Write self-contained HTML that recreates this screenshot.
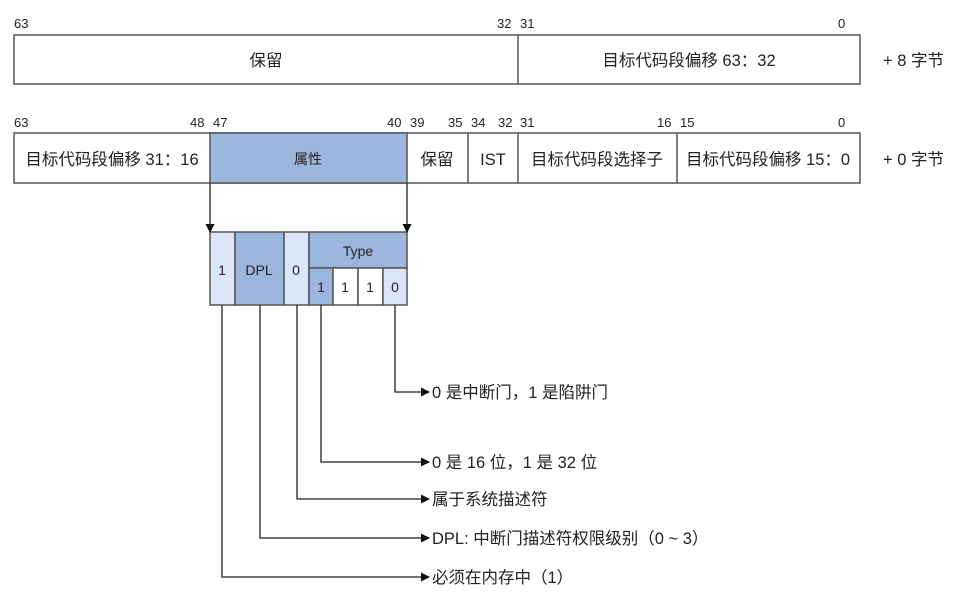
<!DOCTYPE html>
<html><head><meta charset="utf-8"><style>
body{margin:0;background:#fff;width:961px;height:595px;overflow:hidden}
svg text{font-family:"Liberation Sans","Noto Sans CJK SC",sans-serif;fill:#222}
</style></head><body>
<svg width="961" height="595" xmlns="http://www.w3.org/2000/svg">
<defs><marker id="a" markerWidth="9" markerHeight="9" refX="8" refY="4.5" orient="auto" markerUnits="userSpaceOnUse"><path d="M0,0 L9,4.5 L0,9z" fill="#111"/></marker></defs>
<g font-size="13">
<text x="14" y="28">63</text><text x="497" y="28">32</text><text x="520" y="28">31</text><text x="838" y="28">0</text>
<text x="14" y="127">63</text><text x="190" y="127">48</text><text x="213" y="127">47</text><text x="387" y="127">40</text><text x="410" y="127">39</text><text x="448" y="127">35</text><text x="471" y="127">34</text><text x="498" y="127">32</text><text x="520" y="127">31</text><text x="657" y="127">16</text><text x="680" y="127">15</text><text x="838" y="127">0</text>
</g>
<g stroke="#555" stroke-width="1.5" fill="#fff">
<rect x="14" y="35" width="846" height="49"/>
<line x1="518" y1="35" x2="518" y2="84"/>
<rect x="14" y="133" width="846" height="50"/>
<rect x="210" y="133" width="197" height="50" fill="#9db6dd"/>
<line x1="468" y1="133" x2="468" y2="183"/><line x1="518" y1="133" x2="518" y2="183"/><line x1="677" y1="133" x2="677" y2="183"/>
<rect x="210" y="232" width="25" height="73" fill="#dae6f8"/>
<rect x="235" y="232" width="49" height="73" fill="#9db6dd"/>
<rect x="284" y="232" width="25" height="73" fill="#dae6f8"/>
<rect x="309" y="232" width="98" height="36" fill="#9db6dd"/>
<rect x="309" y="268" width="24" height="37" fill="#9db6dd"/>
<rect x="333" y="268" width="25" height="37"/>
<rect x="358" y="268" width="25" height="37"/>
<rect x="383" y="268" width="24" height="37" fill="#dae6f8"/>
</g>
<g font-size="16.5" text-anchor="middle">
<text x="266" y="66">保留</text><text x="689" y="66">目标代码段偏移 63：32</text>
<text x="112" y="165">目标代码段偏移 31：16</text><text x="308" y="164" font-size="14">属性</text>
<text x="437" y="165">保留</text><text x="493" y="165">IST</text><text x="597" y="165">目标代码段选择子</text><text x="768" y="165">目标代码段偏移 15：0</text>
</g>
<g font-size="16.5"><text x="883" y="66">+ 8 字节</text><text x="883" y="165">+ 0 字节</text></g>
<g font-size="14" text-anchor="middle">
<text x="222" y="275">1</text><text x="259" y="275">DPL</text><text x="296" y="275">0</text><text x="358" y="256">Type</text>
<text x="321" y="292">1</text><text x="345" y="292">1</text><text x="370" y="292">1</text><text x="395" y="292">0</text>
</g>
<g stroke="#222" stroke-width="1.3" fill="none">
<line x1="210" y1="183" x2="210" y2="232" marker-end="url(#a)"/>
<line x1="407" y1="183" x2="407" y2="232" marker-end="url(#a)"/>
<polyline points="395,305 395,392 429,392" marker-end="url(#a)"/>
<polyline points="321,305 321,462 429,462" marker-end="url(#a)"/>
<polyline points="297,305 297,499 429,499" marker-end="url(#a)"/>
<polyline points="260,305 260,538 429,538" marker-end="url(#a)"/>
<polyline points="222,305 222,577 429,577" marker-end="url(#a)"/>
</g>
<g font-size="16.5">
<text x="432" y="398">0 是中断门，1 是陷阱门</text>
<text x="432" y="468">0 是 16 位，1 是 32 位</text>
<text x="432" y="505">属于系统描述符</text>
<text x="432" y="544">DPL: 中断门描述符权限级别（0 ~ 3）</text>
<text x="432" y="583">必须在内存中（1）</text>
</g>
</svg>
</body></html>
